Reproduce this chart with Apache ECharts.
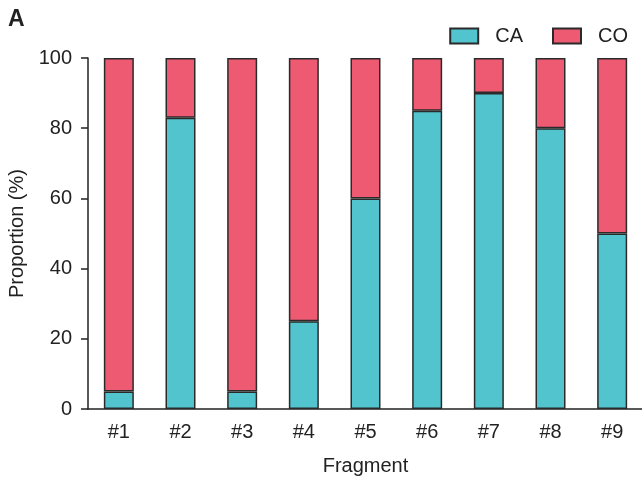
<!DOCTYPE html>
<html><head><meta charset="utf-8">
<script src="https://cdn.jsdelivr.net/npm/echarts@6/dist/echarts.min.js"></script>
<style>html,body{margin:0;padding:0;background:#fff}#c{width:642px;height:478px}</style>
</head><body><div id="c"></div>
<script>
const categories = ['#1','#2','#3','#4','#5','#6','#7','#8','#9'];
const caValues = [5, 83, 5, 25, 60, 85, 90, 80, 50];
const coValues = [95, 17, 95, 75, 40, 15, 10, 20, 50];
const yTicks = [0, 20, 40, 60, 80, 100];

const chart = echarts.init(document.getElementById('c'), null, {renderer:'canvas'});
const font = 'Liberation Sans, Arial, sans-serif';
const axisColor = '#222';
chart.setOption({
  animation:false,
  backgroundColor:'#fff',
  textStyle:{fontFamily:font},
  graphic:[{type:'text', left:8, top:8, style:{text:'A', font:'bold 23px Liberation Sans, Arial, sans-serif', fill:'#222'}}],
  legend:{
    top:21, right:9, itemWidth:28, itemHeight:15, itemGap:29, icon:'rect',
    textStyle:{fontSize:20, color:'#222', fontFamily:font, padding:[0,0,0,12]},
    data:['CA','CO']
  },
  grid:{left:88, top:58, width:555, bottom:69, outerBoundsMode:'none'},
  xAxis:{
    type:'category', data:categories, boundaryGap:true,
    name:'Fragment', nameLocation:'middle', nameGap:47,
    nameTextStyle:{fontSize:20, color:'#222'},
    axisLine:{lineStyle:{color:axisColor, width:1.5}},
    axisTick:{length:6, lineStyle:{color:axisColor, width:1.5}, alignWithLabel:false},
    axisLabel:{fontSize:20, color:'#222', margin:13}
  },
  yAxis:{
    type:'value', min:0, max:100, interval:20,
    name:'Proportion (%)', nameLocation:'middle', nameGap:58,
    nameTextStyle:{fontSize:20, color:'#222'},
    axisLine:{show:true, lineStyle:{color:axisColor, width:1.5}},
    axisTick:{show:true, length:7, lineStyle:{color:axisColor, width:1.5}},
    axisLabel:{fontSize:20, color:'#222', margin:16, formatter:v=>yTicks.includes(v)?String(v):''},
    splitLine:{show:false}
  },
  series:[
    {name:'CA', type:'bar', stack:'s', data:caValues, barWidth:30,
     itemStyle:{color:'#51C4CE', borderColor:'#2a2a2a', borderWidth:1.5}},
    {name:'CO', type:'bar', stack:'s', data:coValues, barWidth:30,
     itemStyle:{color:'#EF5A73', borderColor:'#2a2a2a', borderWidth:1.5}}
  ]
});
</script></body></html>
